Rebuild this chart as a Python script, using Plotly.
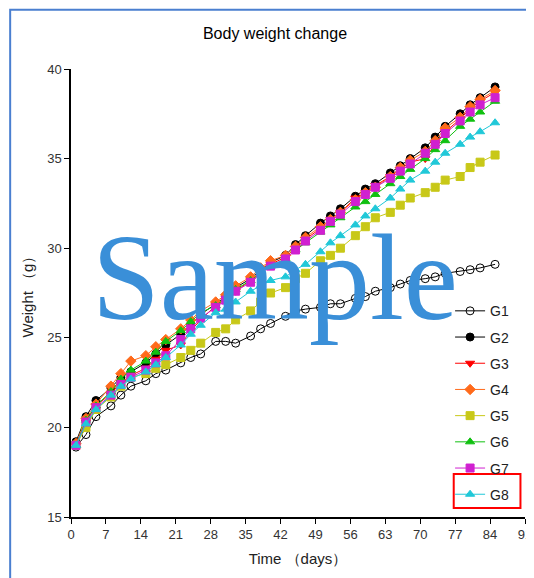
import plotly.graph_objects as go

days = [1,3,5,8,10,12,15,17,19,22,24,26,29,31,33,36,38,40,43,45,47,50,52,54,57,59,61,64,66,68,71,73,75,78,80,82,85]
G1 = [18.9,19.6,20.6,21.2,21.8,22.3,22.6,23.0,23.2,23.6,23.9,24.1,24.8,24.8,24.7,25.1,25.5,25.8,26.2,26.5,26.6,26.7,26.9,26.9,27.2,27.3,27.6,27.8,28.0,28.2,28.3,28.4,28.6,28.7,28.8,28.9,29.1]
G2 = [19.2,20.6,21.5,22.2,22.8,23.1,23.6,24.1,24.6,25.2,25.7,26.3,26.9,27.3,27.8,28.3,28.8,29.2,29.6,30.2,30.7,31.4,31.8,32.2,32.9,33.3,33.6,34.2,34.6,35.0,35.6,36.2,36.8,37.5,38.0,38.4,39.0]
G3 = [19.0,20.3,21.2,21.9,22.5,22.9,23.3,23.8,24.3,24.6,25.4,26.0,26.8,27.2,27.6,28.2,28.7,29.1,29.5,30.0,30.5,31.1,31.6,32.0,32.8,33.1,33.5,34.0,34.4,34.8,35.0,35.8,36.5,37.2,37.8,38.2,38.7]
G4 = [19.1,20.5,21.3,22.3,23.0,23.7,24.0,24.5,24.9,25.5,26.0,26.5,27.0,27.4,27.9,28.4,28.9,29.3,29.6,30.1,30.6,31.2,31.6,32.0,32.7,33.1,33.4,34.0,34.5,34.9,35.4,36.0,36.7,37.3,37.9,38.3,38.8]
G5 = [19.0,20.0,21.0,21.7,22.3,22.8,23.0,23.3,23.5,23.9,24.3,24.7,25.3,25.5,26.0,26.5,27.0,27.5,27.8,28.3,28.6,29.3,29.6,30.0,30.7,31.2,31.7,32.0,32.4,32.8,33.1,33.4,33.8,34.0,34.5,34.8,35.2]
G6 = [19.0,20.4,21.2,22.0,22.7,23.2,23.7,24.2,24.8,25.4,25.9,26.4,26.8,27.2,27.7,28.2,28.6,29.0,29.4,29.9,30.3,30.9,31.3,31.7,32.3,32.6,33.0,33.6,34.0,34.4,35.0,35.5,36.0,36.8,37.2,37.6,38.2]
G7 = [19.0,20.3,21.1,21.8,22.4,22.8,23.2,23.6,24.0,24.9,25.5,26.1,26.7,27.1,27.6,28.1,28.6,29.0,29.4,29.9,30.4,31.0,31.5,31.9,32.6,33.0,33.4,33.9,34.3,34.7,35.3,35.8,36.4,37.1,37.6,38.0,38.4]
G8 = [19.0,20.2,21.0,21.8,22.3,22.7,23.1,23.5,23.9,24.6,25.2,25.7,26.4,26.6,27.0,27.6,27.9,28.2,28.4,28.8,29.1,29.8,30.3,30.7,31.3,31.8,32.2,32.8,33.3,33.8,34.3,34.8,35.3,35.8,36.2,36.5,37.0]
x_ticks = list(range(0, 92, 7))
y_ticks = [15, 20, 25, 30, 35, 40]

series = [
    ("G1", G1, "black", "circle-open", "white"),
    ("G2", G2, "black", "circle", "black"),
    ("G3", G3, "#ff0000", "triangle-down", "#ff0000"),
    ("G4", G4, "#ff6a1a", "diamond", "#ff6a1a"),
    ("G5", G5, "#c8c818", "square", "#c8c818"),
    ("G6", G6, "#10c010", "triangle-up", "#10c010"),
    ("G7", G7, "#d020d0", "square", "#d020d0"),
    ("G8", G8, "#20c8d8", "triangle-up", "#20c8d8"),
]
fig = go.Figure()
for name, ys, col, sym, fill in series:
    fig.add_trace(go.Scatter(
        x=days, y=ys, name=name, mode="lines+markers", legendgroup=name,
        line=dict(color=col, width=1),
        marker=dict(symbol=sym, size=8, color=fill if sym != "circle-open" else col,
                    line=dict(color=col, width=1)),
    ))

axis_common = dict(showline=True, linecolor="black", linewidth=1.5, ticks="outside",
                   ticklen=5, tickcolor="black", showgrid=False, zeroline=False, automargin=False,
                   tickfont=dict(family="Liberation Sans", size=13, color="#333"))
fig.update_layout(
    width=534, height=578, paper_bgcolor="white", plot_bgcolor="white",
    margin=dict(l=63, r=17, t=61, b=69, autoexpand=False),
    title=dict(text="Body weight change", x=0.5, y=0.965, xanchor="center",
               font=dict(family="Liberation Sans", size=16, color="black")),
    xaxis=dict(range=[0, 91], tickvals=x_ticks,
               title=dict(text="Time （days）", font=dict(family="Liberation Sans", size=15, color="#222"), standoff=12),
               **axis_common),
    yaxis=dict(range=[15, 40], tickvals=y_ticks,
               title=dict(text="Weight （g）", font=dict(family="Liberation Sans", size=15, color="#222"), standoff=10),
               **axis_common),
    legend=dict(x=0.835, y=0.495, xanchor="left", yanchor="top", bgcolor="rgba(0,0,0,0)",
                font=dict(family="Liberation Sans", size=14, color="#222"), tracegroupgap=5,
                itemwidth=30),
    showlegend=True,
)
fig.add_shape(type="rect", xref="paper", yref="paper", x0=0.843, x1=0.99, y0=0.02, y1=0.096,
              line=dict(color="red", width=2))
fig.add_shape(type="rect", xref="paper", yref="paper", x0=-0.134, x1=1.035, y0=-0.152, y1=1.132,
              line=dict(color="#4a7fd0", width=2))
fig.add_annotation(text="Sample", xref="paper", yref="paper", x=0.45, y=0.535,
                   showarrow=False, font=dict(family="Liberation Serif", size=122, color="#3a8fd8"))
fig.write_html("out.html")
